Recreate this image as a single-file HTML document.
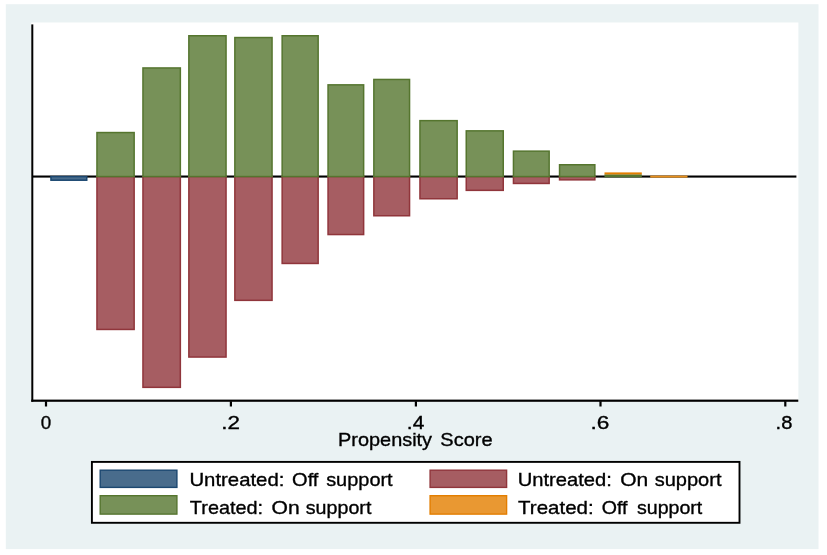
<!DOCTYPE html>
<html><head><meta charset="utf-8"><title>Propensity Score</title>
<style>html,body{margin:0;padding:0;background:#fff;}body{width:827px;height:555px;overflow:hidden;}svg{display:block;}text{font-family:"Liberation Sans",sans-serif;fill:#000;stroke:#000;stroke-width:0.35;}</style>
</head><body>
<svg width="827" height="555" viewBox="0 0 827 555">
<defs><filter id="soft" x="0" y="0" width="827" height="555" filterUnits="userSpaceOnUse"><feGaussianBlur stdDeviation="0.45"/></filter></defs>
<rect x="0" y="0" width="827" height="555" fill="#ffffff"/>
<g filter="url(#soft)">
<rect x="5.8" y="4.2" width="812.7" height="544.9" fill="#eaf2f3"/>
<rect x="31.2" y="22.5" width="767.2" height="379.3" fill="#ffffff"/>
<rect x="32" y="175.5" width="764.4" height="2.1" fill="#000"/>
<rect x="50.95" y="176.6" width="35.80" height="3.6" fill="#486c8c" stroke="#1a476f" stroke-width="1.5"/>
<rect x="96.95" y="176.50" width="37.20" height="152.95" fill="#a65d62" stroke="#90353b" stroke-width="1.5"/>
<rect x="142.95" y="176.50" width="37.40" height="210.85" fill="#a65d62" stroke="#90353b" stroke-width="1.5"/>
<rect x="188.85" y="176.50" width="37.20" height="180.55" fill="#a65d62" stroke="#90353b" stroke-width="1.5"/>
<rect x="234.85" y="176.50" width="37.20" height="123.85" fill="#a65d62" stroke="#90353b" stroke-width="1.5"/>
<rect x="282.15" y="176.50" width="36.00" height="86.95" fill="#a65d62" stroke="#90353b" stroke-width="1.5"/>
<rect x="328.05" y="176.50" width="35.60" height="58.05" fill="#a65d62" stroke="#90353b" stroke-width="1.5"/>
<rect x="373.85" y="176.50" width="35.70" height="39.25" fill="#a65d62" stroke="#90353b" stroke-width="1.5"/>
<rect x="419.95" y="176.50" width="37.20" height="22.25" fill="#a65d62" stroke="#90353b" stroke-width="1.5"/>
<rect x="466.25" y="176.50" width="37.00" height="13.85" fill="#a65d62" stroke="#90353b" stroke-width="1.5"/>
<rect x="513.45" y="176.50" width="35.70" height="6.95" fill="#a65d62" stroke="#90353b" stroke-width="1.5"/>
<rect x="559.55" y="176.50" width="35.30" height="3.35" fill="#a65d62" stroke="#90353b" stroke-width="1.5"/>
<rect x="96.95" y="132.55" width="37.20" height="44.00" fill="#779159" stroke="#55752f" stroke-width="1.5"/>
<rect x="142.95" y="67.95" width="37.40" height="108.60" fill="#779159" stroke="#55752f" stroke-width="1.5"/>
<rect x="188.85" y="35.75" width="37.20" height="140.80" fill="#779159" stroke="#55752f" stroke-width="1.5"/>
<rect x="234.85" y="37.55" width="37.20" height="139.00" fill="#779159" stroke="#55752f" stroke-width="1.5"/>
<rect x="282.15" y="35.75" width="36.00" height="140.80" fill="#779159" stroke="#55752f" stroke-width="1.5"/>
<rect x="328.05" y="84.85" width="35.60" height="91.70" fill="#779159" stroke="#55752f" stroke-width="1.5"/>
<rect x="373.85" y="79.45" width="35.70" height="97.10" fill="#779159" stroke="#55752f" stroke-width="1.5"/>
<rect x="419.95" y="120.65" width="37.20" height="55.90" fill="#779159" stroke="#55752f" stroke-width="1.5"/>
<rect x="466.25" y="130.85" width="37.00" height="45.70" fill="#779159" stroke="#55752f" stroke-width="1.5"/>
<rect x="513.45" y="151.15" width="35.70" height="25.40" fill="#779159" stroke="#55752f" stroke-width="1.5"/>
<rect x="559.55" y="164.75" width="35.30" height="11.80" fill="#779159" stroke="#55752f" stroke-width="1.5"/>
<rect x="605.25" y="175.05" width="35.80" height="1.50" fill="#779159" stroke="#55752f" stroke-width="1.5"/>
<rect x="604.50" y="172.4" width="37.30" height="2.0" fill="#e37e00"/>
<rect x="650.20" y="175.6" width="37.30" height="2.0" fill="#e8901c"/>
<rect x="31.3" y="24.4" width="2.0" height="377.4" fill="#000"/>
<rect x="31.3" y="399.6" width="767" height="2.2" fill="#000"/>
<rect x="44.90" y="401.2" width="2.2" height="5.3" fill="#000"/>
<rect x="229.80" y="401.2" width="2.2" height="5.3" fill="#000"/>
<rect x="414.80" y="401.2" width="2.2" height="5.3" fill="#000"/>
<rect x="599.40" y="401.2" width="2.2" height="5.3" fill="#000"/>
<rect x="784.20" y="401.2" width="2.2" height="5.3" fill="#000"/>
<rect x="91.9" y="461.9" width="647.6" height="60.9" fill="#fff" stroke="#000" stroke-width="1.9"/>
<rect x="100.20" y="470.20" width="76.70" height="17.20" fill="#486c8c" stroke="#1a476f" stroke-width="1.4"/>
<rect x="100.20" y="495.70" width="76.70" height="18.40" fill="#779159" stroke="#55752f" stroke-width="1.4"/>
<rect x="430.10" y="470.20" width="76.50" height="17.20" fill="#a65d62" stroke="#90353b" stroke-width="1.4"/>
<rect x="430.10" y="495.70" width="76.50" height="18.40" fill="#e99833" stroke="#e37e00" stroke-width="1.4"/>
<text x="40.65" y="428.6" font-size="19.1" textLength="10.46" lengthAdjust="spacingAndGlyphs">0</text>
<text x="221.37" y="428.6" font-size="19.1" textLength="18.72" lengthAdjust="spacingAndGlyphs">.2</text>
<text x="406.87" y="428.6" font-size="19.1" textLength="17.45" lengthAdjust="spacingAndGlyphs">.4</text>
<text x="590.51" y="428.6" font-size="19.1" textLength="18.89" lengthAdjust="spacingAndGlyphs">.6</text>
<text x="775.61" y="428.6" font-size="19.1" textLength="16.80" lengthAdjust="spacingAndGlyphs">.8</text>
<text x="338.10" y="445.6" font-size="18.6" textLength="93.95" lengthAdjust="spacingAndGlyphs">Propensity</text>
<text x="440.36" y="445.6" font-size="18.6" textLength="52.30" lengthAdjust="spacingAndGlyphs">Score</text>
<text x="189.41" y="486.3" font-size="19.0" textLength="94.97" lengthAdjust="spacingAndGlyphs">Untreated:</text>
<text x="292.09" y="486.3" font-size="19.0" textLength="26.33" lengthAdjust="spacingAndGlyphs">Off</text>
<text x="326.16" y="486.3" font-size="19.0" textLength="66.48" lengthAdjust="spacingAndGlyphs">support</text>
<text x="189.89" y="513.5" font-size="19.0" textLength="73.22" lengthAdjust="spacingAndGlyphs">Treated:</text>
<text x="271.53" y="513.5" font-size="19.0" textLength="28.14" lengthAdjust="spacingAndGlyphs">On</text>
<text x="305.80" y="513.5" font-size="19.0" textLength="65.55" lengthAdjust="spacingAndGlyphs">support</text>
<text x="517.66" y="486.3" font-size="19.0" textLength="94.22" lengthAdjust="spacingAndGlyphs">Untreated:</text>
<text x="620.26" y="486.3" font-size="19.0" textLength="28.02" lengthAdjust="spacingAndGlyphs">On</text>
<text x="654.71" y="486.3" font-size="19.0" textLength="66.78" lengthAdjust="spacingAndGlyphs">support</text>
<text x="518.11" y="513.5" font-size="19.0" textLength="75.53" lengthAdjust="spacingAndGlyphs">Treated:</text>
<text x="601.67" y="513.5" font-size="19.0" textLength="25.75" lengthAdjust="spacingAndGlyphs">Off</text>
<text x="636.95" y="513.5" font-size="19.0" textLength="65.38" lengthAdjust="spacingAndGlyphs">support</text>
</g>
</svg>
</body></html>
